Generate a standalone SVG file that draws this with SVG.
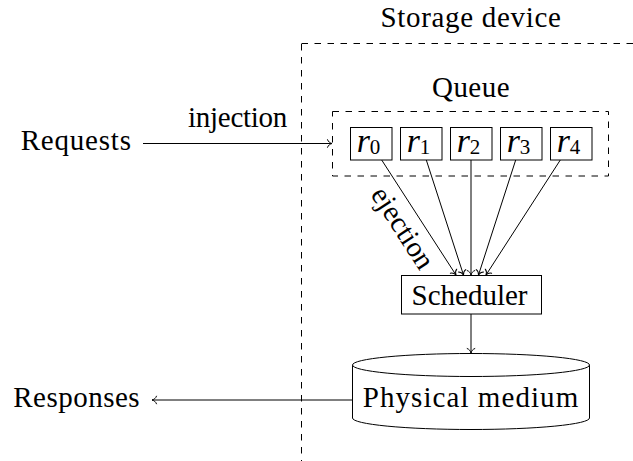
<svg xmlns="http://www.w3.org/2000/svg" width="633" height="461" viewBox="0 0 633 461" font-family="Liberation Serif, serif">
  <style>
    .t { font-family: "Liberation Serif", serif; font-size: 29px; fill: #000; }
    .math { font-family: "Liberation Serif", serif; font-style: italic; font-size: 34px; fill: #000; }
    .sub { font-style: normal; font-size: 21px; }
    .box { fill: #fff; stroke: #000; stroke-width: 1; }
    .dash { fill: none; stroke: #000; stroke-width: 1; stroke-dasharray: 6.5 6.5; }
    .edge { fill: none; stroke: #000; stroke-width: 1; marker-end: url(#arrow); }
  </style>
  <defs>
    <!-- open, slightly curved arrow tip -->
    <marker id="arrow" markerUnits="userSpaceOnUse" markerWidth="12" markerHeight="12" viewBox="-6 -6 12 12" refX="0" refY="0" orient="auto">
      <path d="M-4.5,-3.8 C-3.8,-1.6 -1.6,-0.4 0,0 C-1.6,0.4 -3.8,1.6 -4.5,3.8" fill="none" stroke="#000" stroke-width="1" stroke-linecap="round"/>
    </marker>
  </defs>

  <!-- storage device enclosure (open to the right and bottom) -->
  <g id="storage">
    <rect class="dash" x="301.5" y="43.5" width="420" height="500"/>
    <text class="t" letter-spacing="0.68" x="471" y="26.7" text-anchor="middle">Storage device</text>
  </g>

  <!-- queue enclosure -->
  <g id="queue">
    <rect class="dash" x="332.5" y="111.5" width="276" height="64.5"/>
    <text class="t" letter-spacing="0.46" x="471" y="96.7" text-anchor="middle">Queue</text>
  </g>

  <!-- connectors -->
  <g id="connectors">
    <line class="edge" x1="143" y1="143.5" x2="332" y2="143.5"/>
    <line class="edge" x1="381.7" y1="160" x2="456" y2="275"/>
    <line class="edge" x1="426.3" y1="160" x2="463.5" y2="275"/>
    <line class="edge" x1="471" y1="160" x2="471" y2="275"/>
    <line class="edge" x1="515.7" y1="160" x2="478.5" y2="275"/>
    <line class="edge" x1="560.3" y1="160" x2="486" y2="275"/>
    <line class="edge" x1="471" y1="314" x2="471" y2="353"/>
    <line class="edge" x1="352.5" y1="400" x2="152" y2="400"/>
    <text class="t" letter-spacing="-0.3" x="237.5" y="126.7" text-anchor="middle">injection</text>
    <text class="t" transform="translate(395,233) rotate(57)" text-anchor="middle">ejection</text>
  </g>

  <g id="requests">
    <text class="t" letter-spacing="0.8" x="20.7" y="150">Requests</text>
  </g>

  <g id="responses">
    <text class="t" letter-spacing="0.48" x="13.3" y="407">Responses</text>
  </g>

  <g id="r0">
    <rect class="box" x="350.5" y="127.5" width="41.5" height="32.5"/>
    <text class="math" x="368.5" y="151.7" text-anchor="middle">r<tspan class="sub" dy="2.5">0</tspan></text>
  </g>
  <g id="r1">
    <rect class="box" x="400.5" y="127.5" width="41.5" height="32.5"/>
    <text class="math" x="418.5" y="151.7" text-anchor="middle">r<tspan class="sub" dy="2.5">1</tspan></text>
  </g>
  <g id="r2">
    <rect class="box" x="450.5" y="127.5" width="41.5" height="32.5"/>
    <text class="math" x="468.5" y="151.7" text-anchor="middle">r<tspan class="sub" dy="2.5">2</tspan></text>
  </g>
  <g id="r3">
    <rect class="box" x="500.5" y="127.5" width="41.5" height="32.5"/>
    <text class="math" x="518.5" y="151.7" text-anchor="middle">r<tspan class="sub" dy="2.5">3</tspan></text>
  </g>
  <g id="r4">
    <rect class="box" x="550.5" y="127.5" width="41.5" height="32.5"/>
    <text class="math" x="568.5" y="151.7" text-anchor="middle">r<tspan class="sub" dy="2.5">4</tspan></text>
  </g>

  <g id="scheduler">
    <rect class="box" x="401.5" y="275.5" width="140" height="38.5"/>
    <text class="t" x="469.5" y="305" text-anchor="middle">Scheduler</text>
  </g>

  <!-- disk-shaped storage medium -->
  <g id="medium">
    <path class="box" d="M352.5,365 V418 A118.5,11.5 0 0 0 589.5,418 V365"/>
    <ellipse class="box" cx="471" cy="365" rx="118.5" ry="11.5"/>
    <text class="t" letter-spacing="1.07" x="471" y="406.7" text-anchor="middle">Physical medium</text>
  </g>
</svg>
